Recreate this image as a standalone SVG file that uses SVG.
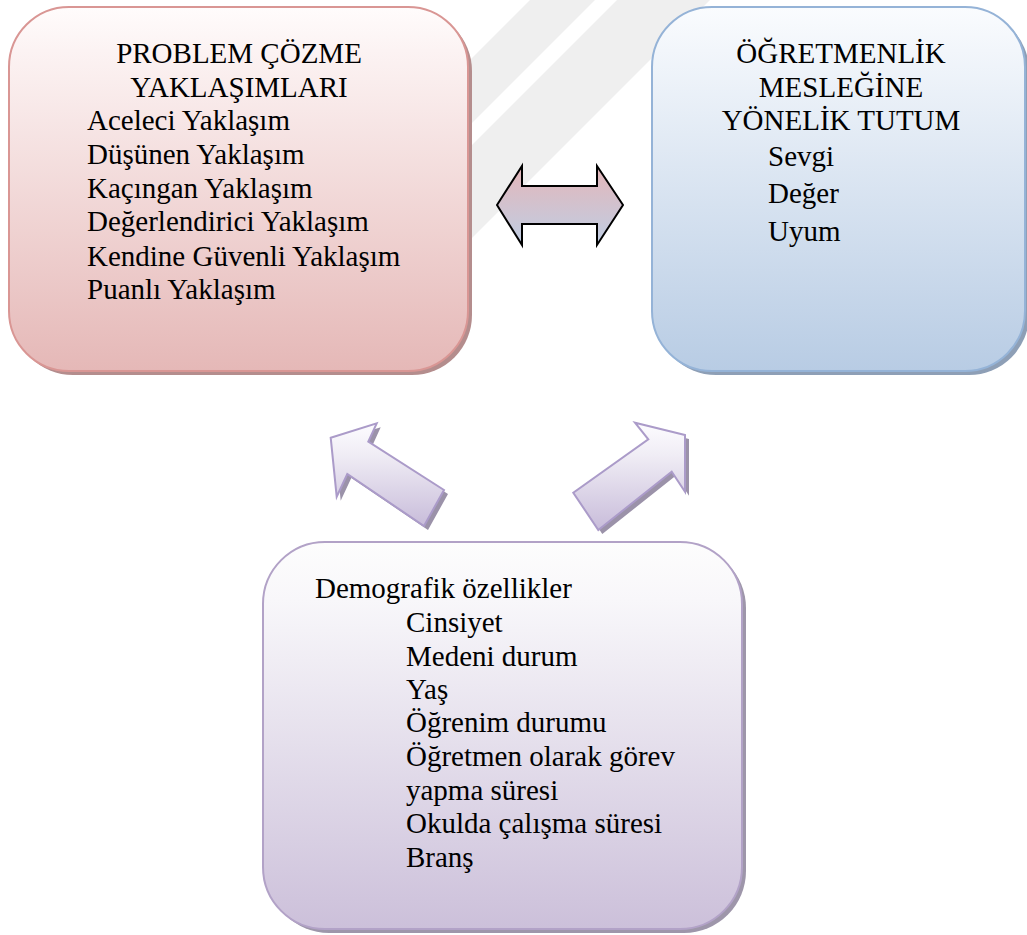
<svg xmlns="http://www.w3.org/2000/svg" width="1027" height="935" viewBox="0 0 1027 935">
<defs>
<linearGradient id="gRed" x1="0" y1="0" x2="0" y2="1">
<stop offset="0" stop-color="#fffcfc"/><stop offset="0.12" stop-color="#fcf3f3"/><stop offset="1" stop-color="#e5b8b7"/>
</linearGradient>
<linearGradient id="gBlue" x1="0" y1="0" x2="0" y2="1">
<stop offset="0" stop-color="#fafcfe"/><stop offset="0.12" stop-color="#f2f6fb"/><stop offset="1" stop-color="#b8cce4"/>
</linearGradient>
<linearGradient id="gPurple" x1="0" y1="0" x2="0" y2="1">
<stop offset="0" stop-color="#fdfdfd"/><stop offset="0.15" stop-color="#f8f7fa"/><stop offset="1" stop-color="#ccc0da"/>
</linearGradient>
<linearGradient id="gArrow" x1="0" y1="0" x2="0" y2="1">
<stop offset="0" stop-color="#fdfcff"/><stop offset="0.3" stop-color="#f0edf5"/><stop offset="1" stop-color="#c8bcda"/>
</linearGradient>
<linearGradient id="gDouble" x1="0" y1="0" x2="0" y2="1">
<stop offset="0" stop-color="#e4b6b9"/><stop offset="1" stop-color="#bfcee4"/>
</linearGradient>
<style>
text{font-family:"Liberation Serif","Times New Roman",serif;font-size:29px;fill:#000}
.c{text-anchor:middle}
.wm{fill:#efefef}
.sh-r{fill:#b48d8d}
.sh-b{fill:#8e9fb6}
.sh-p{fill:#9e96aa}
.box-r{fill:url(#gRed);stroke:#d99694;stroke-width:2}
.box-b{fill:url(#gBlue);stroke:#95b3d7;stroke-width:2}
.box-p{fill:url(#gPurple);stroke:#b2a2c7;stroke-width:2}
.arr{fill:url(#gArrow);stroke:#ab9bc9;stroke-width:2;stroke-linejoin:miter}
.arr-sh{fill:#9b92a9}
.dbl{fill:url(#gDouble);stroke:#000;stroke-width:2;stroke-linejoin:miter}
</style>
</defs>
<rect width="1027" height="935" fill="#ffffff"/>
<g id="watermark">
<polygon class="wm" points="530,0 595,0 235,360 170,360"/>
<polygon class="wm" points="617,0 710,0 350,360 257,360"/>
</g>
<g id="node-problem">
<rect class="sh-r" x="13" y="11" width="459" height="364" rx="60"/>
<rect class="box-r" x="9" y="7" width="459" height="364" rx="60"/>
<text class="c" x="239" y="63">PROBLEM ÇÖZME</text>
<text class="c" x="239" y="97">YAKLAŞIMLARI</text>
<text x="87" y="130">Aceleci Yaklaşım</text>
<text x="87" y="164">Düşünen Yaklaşım</text>
<text x="87" y="198">Kaçıngan Yaklaşım</text>
<text x="87" y="231">Değerlendirici Yaklaşım</text>
<text x="87" y="266">Kendine Güvenli Yaklaşım</text>
<text x="87" y="299">Puanlı Yaklaşım</text>
</g>
<g id="node-tutum">
<rect class="sh-b" x="656" y="11" width="373" height="364" rx="60"/>
<rect class="box-b" x="652" y="7" width="373" height="364" rx="60"/>
<text class="c" x="841" y="63">ÖĞRETMENLİK</text>
<text class="c" x="841" y="97">MESLEĞİNE</text>
<text class="c" x="841" y="130">YÖNELİK TUTUM</text>
<text x="768" y="166">Sevgi</text>
<text x="768" y="203">Değer</text>
<text x="768" y="241">Uyum</text>
</g>
<g id="node-demografik">
<rect class="sh-p" x="267" y="546" width="479" height="387" rx="62"/>
<rect class="box-p" x="263" y="542" width="479" height="387" rx="62"/>
<text x="315" y="598">Demografik özellikler</text>
<text x="406" y="632">Cinsiyet</text>
<text x="406" y="666">Medeni durum</text>
<text x="406" y="699">Yaş</text>
<text x="406" y="732">Öğrenim durumu</text>
<text x="406" y="766">Öğretmen olarak görev</text>
<text x="406" y="800">yapma süresi</text>
<text x="406" y="833">Okulda çalışma süresi</text>
<text x="406" y="867">Branş</text>
</g>
<g id="connectors">
<path class="dbl" d="M497,205 L522,166 L522,186 L597,186 L597,166 L623,205 L597,245 L597,224 L522,224 L522,245 Z"/>
<g transform="translate(4,4)">
<polygon class="arr-sh" points="330.7,437.7 376.7,423.3 368.3,441.7 444,490 424,526 347.3,474 336.7,496.7"/>
<polygon class="arr-sh" points="685,435 635,422.7 648.3,439.3 573.3,492.7 598.3,530 671.7,471.7 685,491.7"/>
</g>
<polygon class="arr" points="330.7,437.7 376.7,423.3 368.3,441.7 444,490 424,526 347.3,474 336.7,496.7"/>
<polygon class="arr" points="685,435 635,422.7 648.3,439.3 573.3,492.7 598.3,530 671.7,471.7 685,491.7"/>
</g>
</svg>
